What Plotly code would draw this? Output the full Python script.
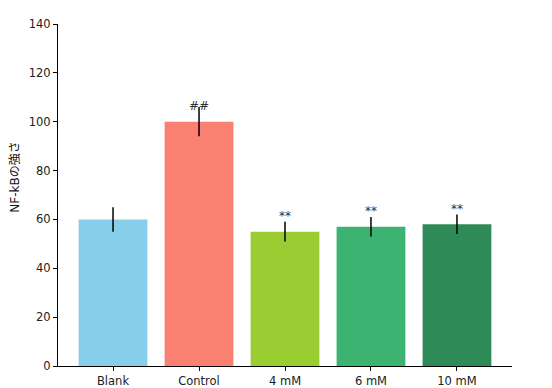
import plotly.graph_objects as go

categories = ["Blank", "Control", "4 mM", "6 mM", "10 mM"]
values = [60, 100, 55, 57, 58]
errors = [5, 6, 4, 4, 4]
marks = ["", "##", "**", "**", "**"]
colors = ["#87CEEB", "#FA8072", "#9ACD32", "#3CB371", "#2E8B57"]
y_ticks = [0, 20, 40, 60, 80, 100, 120, 140]
y_title = "NF-kBの強さ"

fig = go.Figure()
fig.add_trace(go.Bar(
    x=list(range(len(categories))), y=values, width=0.8,
    marker=dict(color=colors, line=dict(width=0)),
    error_y=dict(type="data", array=errors, visible=True, color="black",
                 thickness=1.5, width=0),
    showlegend=False,
))
for i, (v, e, m) in enumerate(zip(values, errors, marks)):
    if m:
        fig.add_annotation(x=i, y=v + e, text=m, showarrow=False,
                           yanchor="bottom", xanchor="center",
                           yshift=-8 if m == "##" else -3,
                           font=dict(family="DejaVu Sans", size=12, color="#333333"))

fig.add_annotation(xref="paper", yref="paper", x=-0.095, y=0.553, text=y_title,
                   textangle=-90, showarrow=False, xanchor="center", yanchor="middle",
                   font=dict(family="DejaVu Sans, Noto Sans CJK JP", size=12, color="#111111"))

fig.update_layout(
    width=552, height=388,
    margin=dict(l=58, r=40, t=24, b=22),
    plot_bgcolor="white", paper_bgcolor="white",
    font=dict(family="DejaVu Sans", size=11.5, color="#222222"),
    bargap=0.2,
)
fig.update_xaxes(
    range=[-0.64, 4.64], tickvals=list(range(len(categories))), ticktext=categories,
    showline=True, linecolor="black", linewidth=1, ticks="outside", ticklen=4,
    tickcolor="black", showgrid=False, zeroline=False, automargin=False,
)
fig.update_yaxes(
    range=[0, 140], tickvals=y_ticks, showline=True, linecolor="black", linewidth=1,
    ticks="outside", ticklen=4, tickcolor="black", showgrid=False, zeroline=False,
    automargin=False,
)
fig.write_html("out.html", config={"displayModeBar": False},
               post_script="document.body.style.margin='0';")
